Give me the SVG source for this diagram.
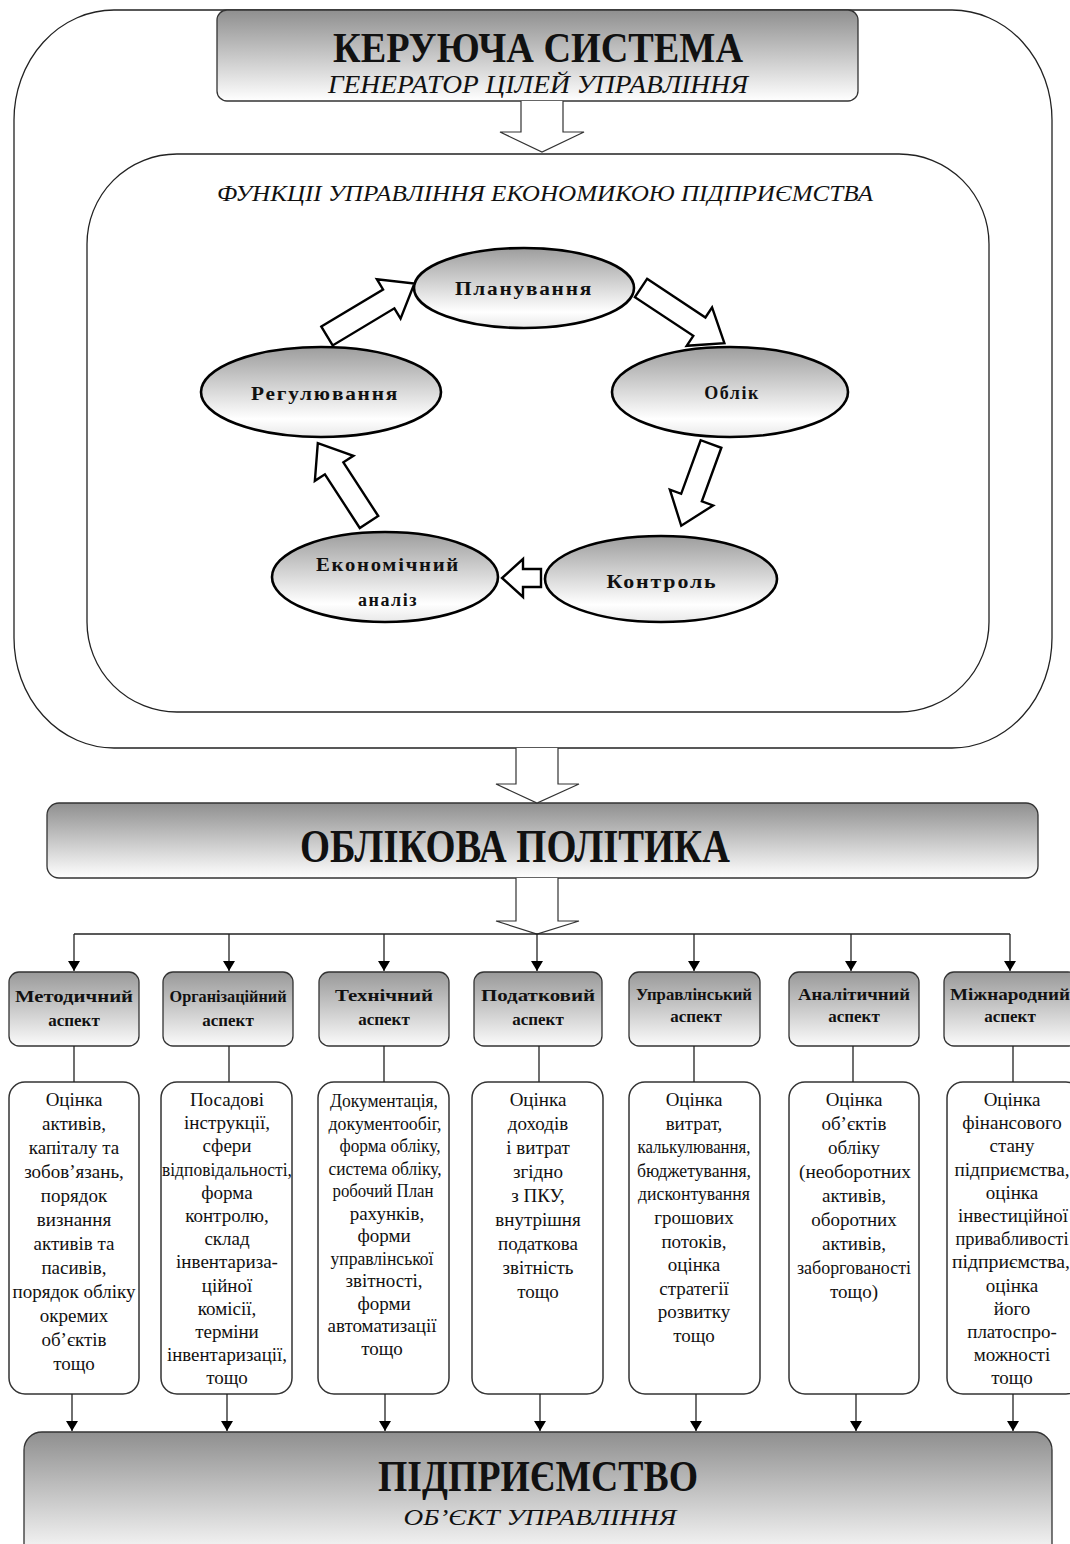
<svg xmlns="http://www.w3.org/2000/svg" width="1070" height="1544" viewBox="0 0 1070 1544">
<style>
.serif{font-family:"Liberation Serif","Times New Roman",serif;fill:#111}
.big{font-weight:bold;text-anchor:middle}
.it{font-style:italic;text-anchor:middle}
.ell{font-weight:bold;font-size:18px;letter-spacing:1.5px;text-anchor:middle}
.asp{font-weight:bold;font-size:17px;text-anchor:middle}
.bd{font-size:19px;text-anchor:middle}
.frame{fill:#fff;stroke:#222;stroke-width:1.3}
.gbox{stroke:#333;stroke-width:1.3}
.tbox{fill:#fff;stroke:#333;stroke-width:1.5}
.ellipse{stroke:#000;stroke-width:2.6;fill:url(#gE)}
.barrow{fill:#fff;stroke:#000;stroke-width:2.4;stroke-linejoin:miter}
.harrow{fill:#fff;stroke:#333;stroke-width:1.2}
.line{stroke:#222;stroke-width:1.3;fill:none}
</style>
<defs>
<linearGradient id="gH" x1="0" y1="0" x2="0" y2="1"><stop offset="0" stop-color="#8f8f8f"/><stop offset="1" stop-color="#ffffff"/></linearGradient>
<linearGradient id="gA" x1="0" y1="0" x2="0" y2="1"><stop offset="0" stop-color="#999"/><stop offset="1" stop-color="#fbfbfb"/></linearGradient>
<linearGradient id="gE" x1="0" y1="0" x2="0" y2="1"><stop offset="0" stop-color="#9d9d9d"/><stop offset="0.8" stop-color="#ffffff"/><stop offset="1" stop-color="#e8e8e8"/></linearGradient>
<marker id="ah" viewBox="0 0 10 14" refX="10" refY="7" markerWidth="10" markerHeight="14" markerUnits="userSpaceOnUse" orient="auto"><path d="M0,1 L10,7 L0,13 Z" fill="#000"/></marker>
<clipPath id="c1"><rect x="9" y="1082" width="130" height="312" rx="16"/></clipPath>
<clipPath id="c2"><rect x="161" y="1082" width="131" height="312" rx="16"/></clipPath>
<clipPath id="c7"><rect x="947" y="1082" width="123" height="312"/></clipPath>
</defs>

<g id="outer-frame"><rect class="frame" x="14" y="10" width="1038" height="738" rx="100" ry="110"/></g>
<g id="inner-frame"><rect class="frame" x="87" y="154" width="902" height="558" rx="90" ry="90"/>
<text class="serif it" x="545" y="201" font-size="23" textLength="656" lengthAdjust="spacingAndGlyphs">ФУНКЦІІ УПРАВЛІННЯ ЕКОНОМИКОЮ ПІДПРИЄМСТВА</text></g>

<g id="header"><rect class="gbox" x="217" y="10" width="641" height="91" rx="10" fill="url(#gH)"/>
<text class="serif big" x="538" y="62" font-size="42" textLength="410" lengthAdjust="spacingAndGlyphs">КЕРУЮЧА СИСТЕМА</text>
<text class="serif it" x="538" y="93" font-size="25" textLength="420" lengthAdjust="spacingAndGlyphs">ГЕНЕРАТОР ЦІЛЕЙ УПРАВЛІННЯ</text></g>

<g id="planuvannia"><ellipse class="ellipse" cx="524" cy="288" rx="110" ry="40"/><text class="serif ell" x="524" y="295" textLength="138" lengthAdjust="spacingAndGlyphs">Планування</text></g>
<g id="oblik"><ellipse class="ellipse" cx="730" cy="392" rx="118" ry="45"/><text class="serif ell" x="732" y="399">Облік</text></g>
<g id="rehuliuvannia"><ellipse class="ellipse" cx="321" cy="392" rx="120" ry="45"/><text class="serif ell" x="325" y="400" textLength="148" lengthAdjust="spacingAndGlyphs">Регулювання</text></g>
<g id="kontrol"><ellipse class="ellipse" cx="661" cy="579" rx="116" ry="43"/><text class="serif ell" x="662" y="588" textLength="111" lengthAdjust="spacingAndGlyphs">Контроль</text></g>
<g id="ekonomichnyi-analiz"><ellipse class="ellipse" cx="385" cy="577" rx="113" ry="45"/><text class="serif ell" x="388" y="571" textLength="144" lengthAdjust="spacingAndGlyphs">Економічний</text><text class="serif ell" x="388" y="606">аналіз</text></g>

<g id="oblikova-polityka"><rect class="gbox" x="47" y="803" width="991" height="75" rx="12" fill="url(#gH)"/>
<text class="serif big" x="515" y="862" font-size="46" textLength="430" lengthAdjust="spacingAndGlyphs">ОБЛІКОВА ПОЛІТИКА</text></g>

<g id="aspect-metodychnyi"><rect class="gbox" x="9" y="972" width="130" height="74" rx="10" fill="url(#gA)"/><text class="serif asp" x="74" y="1002" textLength="118" lengthAdjust="spacingAndGlyphs">Методичний</text><text class="serif asp" x="74" y="1026">аспект</text></g>
<g id="aspect-orhanizatsiinyi"><rect class="gbox" x="163" y="972" width="130" height="74" rx="10" fill="url(#gA)"/><text class="serif asp" x="228" y="1002" font-size="15" textLength="117" lengthAdjust="spacingAndGlyphs">Організаційний</text><text class="serif asp" x="228" y="1026">аспект</text></g>
<g id="aspect-tekhnichnyi"><rect class="gbox" x="319" y="972" width="130" height="74" rx="10" fill="url(#gA)"/><text class="serif asp" x="384" y="1001" textLength="98" lengthAdjust="spacingAndGlyphs">Технічний</text><text class="serif asp" x="384" y="1025">аспект</text></g>
<g id="aspect-podatkovyi"><rect class="gbox" x="474" y="972" width="128" height="74" rx="10" fill="url(#gA)"/><text class="serif asp" x="538" y="1001" textLength="114" lengthAdjust="spacingAndGlyphs">Податковий</text><text class="serif asp" x="538" y="1025">аспект</text></g>
<g id="aspect-upravlinskyi"><rect class="gbox" x="629" y="972" width="131" height="74" rx="10" fill="url(#gA)"/><text class="serif asp" x="694" y="1000" font-size="15" textLength="116" lengthAdjust="spacingAndGlyphs">Управлінський</text><text class="serif asp" x="696" y="1022">аспект</text></g>
<g id="aspect-analitychnyi"><rect class="gbox" x="789" y="972" width="130" height="74" rx="10" fill="url(#gA)"/><text class="serif asp" x="854" y="1000" textLength="112" lengthAdjust="spacingAndGlyphs">Аналітичний</text><text class="serif asp" x="854" y="1022">аспект</text></g>
<g id="aspect-mizhnarodnyi"><rect class="gbox" x="944" y="972" width="134" height="74" rx="10" fill="url(#gA)"/><text class="serif asp" x="1010" y="1000" textLength="120" lengthAdjust="spacingAndGlyphs">Міжнародний</text><text class="serif asp" x="1010" y="1022">аспект</text></g>

<g id="text-metodychnyi"><rect class="tbox" x="9" y="1082" width="130" height="312" rx="16"/>
<text class="serif bd" clip-path="url(#c1)"><tspan x="74" y="1106">Оцінка</tspan><tspan x="74" dy="24">активів,</tspan><tspan x="74" dy="24">капіталу та</tspan><tspan x="74" dy="24">зобов’язань,</tspan><tspan x="74" dy="24">порядок</tspan><tspan x="74" dy="24">визнання</tspan><tspan x="74" dy="24">активів та</tspan><tspan x="74" dy="24">пасивів,</tspan><tspan x="74" dy="24">порядок обліку</tspan><tspan x="74" dy="24">окремих</tspan><tspan x="74" dy="24">об’єктів</tspan><tspan x="74" dy="24">тощо</tspan></text></g>

<g id="text-orhanizatsiinyi"><rect class="tbox" x="161" y="1082" width="131" height="312" rx="16"/>
<text class="serif bd" clip-path="url(#c2)"><tspan x="227" y="1106">Посадові</tspan><tspan x="227" dy="23.2">інструкції,</tspan><tspan x="227" dy="23.2">сфери</tspan><tspan x="227" dy="23.2" textLength="130" lengthAdjust="spacingAndGlyphs">відповідальності,</tspan><tspan x="227" dy="23.2">форма</tspan><tspan x="227" dy="23.2">контролю,</tspan><tspan x="227" dy="23.2">склад</tspan><tspan x="227" dy="23.2">інвентариза-</tspan><tspan x="227" dy="23.2">ційної</tspan><tspan x="227" dy="23.2">комісії,</tspan><tspan x="227" dy="23.2">терміни</tspan><tspan x="227" dy="23.2" textLength="120" lengthAdjust="spacingAndGlyphs">інвентаризації,</tspan><tspan x="227" dy="23.2">тощо</tspan></text></g>

<g id="text-tekhnichnyi"><rect class="tbox" x="318" y="1082" width="131" height="312" rx="16"/>
<text class="serif bd" font-size="18"><tspan x="384" y="1107" textLength="108" lengthAdjust="spacingAndGlyphs">Документація,</tspan><tspan x="385" dy="22.5" textLength="113" lengthAdjust="spacingAndGlyphs">документообіг,</tspan><tspan x="390" dy="22.5" textLength="101" lengthAdjust="spacingAndGlyphs">форма обліку,</tspan><tspan x="385" dy="22.5" textLength="113" lengthAdjust="spacingAndGlyphs">система обліку,</tspan><tspan x="383" dy="22.5" textLength="101" lengthAdjust="spacingAndGlyphs">робочий План</tspan><tspan x="387" dy="22.5">рахунків,</tspan><tspan x="384" dy="22.5">форми</tspan><tspan x="382" dy="22.5" textLength="103" lengthAdjust="spacingAndGlyphs">управлінської</tspan><tspan x="384" dy="22.5">звітності,</tspan><tspan x="384" dy="22.5">форми</tspan><tspan x="382" dy="22.5" textLength="109" lengthAdjust="spacingAndGlyphs">автоматизації</tspan><tspan x="382" dy="22.5">тощо</tspan></text></g>

<g id="text-podatkovyi"><rect class="tbox" x="472" y="1082" width="131" height="312" rx="16"/>
<text class="serif bd"><tspan x="538" y="1106">Оцінка</tspan><tspan x="538" dy="24">доходів</tspan><tspan x="538" dy="24">і витрат</tspan><tspan x="538" dy="24">згідно</tspan><tspan x="538" dy="24">з ПКУ,</tspan><tspan x="538" dy="24">внутрішня</tspan><tspan x="538" dy="24">податкова</tspan><tspan x="538" dy="24">звітність</tspan><tspan x="538" dy="24">тощо</tspan></text></g>

<g id="text-upravlinskyi"><rect class="tbox" x="629" y="1082" width="131" height="312" rx="16"/>
<text class="serif bd"><tspan x="694" y="1106">Оцінка</tspan><tspan x="694" dy="23.6">витрат,</tspan><tspan x="694" dy="23.6" textLength="113" lengthAdjust="spacingAndGlyphs">калькулювання,</tspan><tspan x="694" dy="23.6" textLength="114" lengthAdjust="spacingAndGlyphs">бюджетування,</tspan><tspan x="694" dy="23.6" textLength="112" lengthAdjust="spacingAndGlyphs">дисконтування</tspan><tspan x="694" dy="23.6">грошових</tspan><tspan x="694" dy="23.6">потоків,</tspan><tspan x="694" dy="23.6">оцінка</tspan><tspan x="694" dy="23.6">стратегії</tspan><tspan x="694" dy="23.6">розвитку</tspan><tspan x="694" dy="23.6">тощо</tspan></text></g>

<g id="text-analitychnyi"><rect class="tbox" x="789" y="1082" width="130" height="312" rx="16"/>
<text class="serif bd"><tspan x="854" y="1106">Оцінка</tspan><tspan x="854" dy="24">об’єктів</tspan><tspan x="854" dy="24">обліку</tspan><tspan x="855" dy="24" textLength="112" lengthAdjust="spacingAndGlyphs">(необоротних</tspan><tspan x="854" dy="24">активів,</tspan><tspan x="854" dy="24">оборотних</tspan><tspan x="854" dy="24">активів,</tspan><tspan x="854" dy="24" textLength="114" lengthAdjust="spacingAndGlyphs">заборгованості</tspan><tspan x="854" dy="24">тощо)</tspan></text></g>

<g id="text-mizhnarodnyi"><rect class="tbox" x="947" y="1082" width="135" height="312" rx="16"/>
<text class="serif bd" clip-path="url(#c7)"><tspan x="1012" y="1106">Оцінка</tspan><tspan x="1012" dy="23.2">фінансового</tspan><tspan x="1012" dy="23.2">стану</tspan><tspan x="1012" dy="23.2" textLength="115" lengthAdjust="spacingAndGlyphs">підприємства,</tspan><tspan x="1012" dy="23.2">оцінка</tspan><tspan x="1013" dy="23.2" textLength="110" lengthAdjust="spacingAndGlyphs">інвестиційної</tspan><tspan x="1012" dy="23.2" textLength="113" lengthAdjust="spacingAndGlyphs">привабливості</tspan><tspan x="1011" dy="23.2" textLength="118" lengthAdjust="spacingAndGlyphs">підприємства,</tspan><tspan x="1012" dy="23.2">оцінка</tspan><tspan x="1012" dy="23.2">його</tspan><tspan x="1012" dy="23.2">платоспро-</tspan><tspan x="1012" dy="23.2">можності</tspan><tspan x="1012" dy="23.2">тощо</tspan></text></g>

<g id="pidpryiemstvo"><rect class="gbox" x="24" y="1432" width="1028" height="130" rx="18" fill="url(#gH)"/>
<text class="serif big" x="538" y="1491" font-size="44" textLength="320" lengthAdjust="spacingAndGlyphs">ПІДПРИЄМСТВО</text>
<text class="serif it" x="540" y="1525" font-size="24" textLength="273" lengthAdjust="spacingAndGlyphs">ОБ’ЄКТ УПРАВЛІННЯ</text></g>

<g id="connectors">
<path class="harrow" d="M521,101 V132 H500 L542,152 L584,132 H563 V101"/>
<path class="harrow" d="M516,748 V784 H496 L537,803 L579,784 H558 V748"/>
<path class="harrow" d="M516,878 V921 H496 L537,934 L579,921 H558 V878"/>
<path class="barrow" transform="translate(327,336) rotate(-31)" d="M0,-11 H72 V-23 L102,0 L72,23 V11 H0 Z"/>
<path class="barrow" transform="translate(641,288) rotate(33.5)" d="M0,-11 H70 V-23 L100,0 L70,23 V11 H0 Z"/>
<path class="barrow" transform="translate(711,444) rotate(110)" d="M0,-11 H57 V-23 L87,0 L57,23 V11 H0 Z"/>
<path class="barrow" transform="translate(541,578) rotate(180)" d="M0,-9 H18 V-19 L39,0 L18,19 V9 H0 Z"/>
<path class="barrow" transform="translate(369,522) rotate(237)" d="M0,-11 H64 V-23 L94,0 L64,23 V11 H0 Z"/>
<path class="line" d="M74,934 H1010"/>
<path class="line" marker-end="url(#ah)" d="M74,934 V971"/>
<path class="line" marker-end="url(#ah)" d="M229,934 V971"/>
<path class="line" marker-end="url(#ah)" d="M384,934 V971"/>
<path class="line" marker-end="url(#ah)" d="M537,934 V971"/>
<path class="line" marker-end="url(#ah)" d="M694,934 V971"/>
<path class="line" marker-end="url(#ah)" d="M851,934 V971"/>
<path class="line" marker-end="url(#ah)" d="M1010,934 V971"/>
<path class="line" d="M74,1046 V1082 M229,1046 V1082 M384,1046 V1082 M539,1046 V1082 M694,1046 V1082 M853,1046 V1082 M1013,1046 V1082"/>
<path class="line" marker-end="url(#ah)" d="M72,1394 V1431"/>
<path class="line" marker-end="url(#ah)" d="M227,1394 V1431"/>
<path class="line" marker-end="url(#ah)" d="M385,1394 V1431"/>
<path class="line" marker-end="url(#ah)" d="M540,1394 V1431"/>
<path class="line" marker-end="url(#ah)" d="M696,1394 V1431"/>
<path class="line" marker-end="url(#ah)" d="M856,1394 V1431"/>
<path class="line" marker-end="url(#ah)" d="M1013,1394 V1431"/>
</g>
</svg>
